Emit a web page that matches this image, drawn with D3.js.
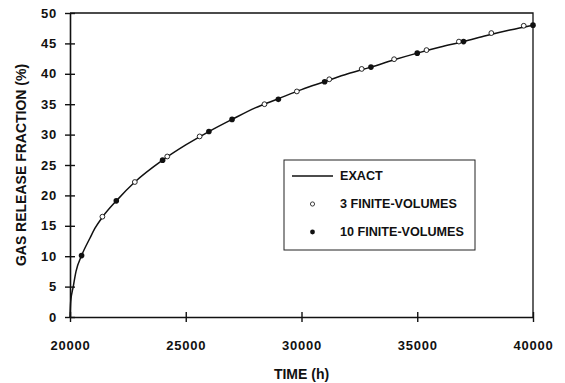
<!DOCTYPE html>
<html>
<head>
<meta charset="utf-8">
<script src="https://cdn.jsdelivr.net/npm/d3@7"></script>
<style>
    body { margin: 0; background: #fff; }
    svg text { font-family: "Liberation Sans", Arial, sans-serif; font-weight: bold; fill: #111; }
</style>
</head>
<body>
<svg id="chart" width="565" height="383"></svg>
<script>
// exact solution
const exactTime = [20000, 20030, 20140, 20260, 20500, 20865, 21080, 21415, 22000, 22800, 24000, 25000,
    26000, 27000, 28000, 29000, 30000, 31000, 32000, 33000, 34000, 35000, 36000, 37000, 38000, 39000, 40000]
const exactFraction = [0, 2.5, 5, 7.5, 10.1, 13, 14.6, 16.5, 19.1, 22.2, 25.8, 28.3,
    30.5, 32.5, 34.4, 35.9, 37.4, 38.7, 40.0, 41.1, 42.3, 43.4, 44.4, 45.3, 46.3, 47.2, 48.0]

// 3 finite-volumes (open circles)
const fv3Time = [21400, 22800, 24200, 25600, 28400, 29800, 31200, 32600, 34000, 35400, 36800, 38200, 39600]
const fv3Fraction = [16.5, 22.2, 26.4, 29.7, 35.0, 37.1, 39.1, 40.8, 42.4, 43.9, 45.3, 46.7, 47.9]

// 10 finite-volumes (filled circles)
const fv10Time = [20500, 22000, 24000, 26000, 27000, 29000, 31000, 33000, 35000, 37000, 40000]
const fv10Fraction = [10.1, 19.1, 25.8, 30.5, 32.5, 35.8, 38.7, 41.1, 43.4, 45.3, 48.0]

const xTicks = [20000, 25000, 30000, 35000, 40000]
const yTicks = [0, 5, 10, 15, 20, 25, 30, 35, 40, 45, 50]

const legendLabels = ["EXACT", "3 FINITE-VOLUMES", "10 FINITE-VOLUMES"]

const margin = {left: 70, right: 32, top: 13, bottom: 66}
const width = 565
const height = 383

let svg = d3.select("#chart")

let x = d3.scaleLinear()
    .domain([20000, 40000])
    .range([margin.left, width - margin.right])
let y = d3.scaleLinear()
    .domain([0, 50])
    .range([height - margin.bottom, margin.top])

// frame: top and right edges
svg.append("path")
    .attr("d", `M ${x(20000)},${y(50)} H ${x(40000)} V ${y(0)}`)
    .attr("fill", "none")
    .attr("stroke", "#111")
    .attr("stroke-width", 1.3)

// axes, ticks crossing the line
let xAxis = svg.append("g")
    .attr("transform", `translate(0,${y(0)})`)
    .call(d3.axisBottom(x).tickValues(xTicks).tickFormat(d3.format("d"))
        .tickSize(5).tickSizeOuter(0))
xAxis.selectAll(".tick line").attr("y1", -5)
let yAxis = svg.append("g")
    .attr("transform", `translate(${x(20000)},0)`)
    .call(d3.axisLeft(y).tickValues(yTicks).tickSize(5).tickSizeOuter(0).tickPadding(8))
yAxis.selectAll(".tick line").attr("x1", 5)

for (let g of [xAxis, yAxis]) {
    g.select(".domain").attr("stroke", "#111").attr("stroke-width", 1.6)
    g.selectAll(".tick line").attr("stroke", "#111").attr("stroke-width", 1.4)
    g.selectAll(".tick text")
        .attr("fill", "#111")
        .style("font-size", "13px")
        .style("letter-spacing", "0.8px")
}
xAxis.selectAll(".tick text").attr("dy", "0.35em").attr("y", 28)

// axis titles
svg.append("text")
    .attr("x", x(30000))
    .attr("y", 374)
    .attr("dy", "0.35em")
    .attr("text-anchor", "middle")
    .style("font-size", "14px")
    .text("TIME (h)")
svg.append("text")
    .attr("transform", `translate(21,${y(25)}) rotate(-90)`)
    .attr("dy", "0.35em")
    .attr("text-anchor", "middle")
    .style("font-size", "14px")
    .text("GAS RELEASE FRACTION (%)")

// exact curve
let line = d3.line()
    .x(d => x(d[0]))
    .y(d => y(d[1]))
    .curve(d3.curveMonotoneX)
svg.append("path")
    .datum(d3.zip(exactTime, exactFraction))
    .attr("d", line)
    .attr("fill", "none")
    .attr("stroke", "#111")
    .attr("stroke-width", 1.5)

// markers
svg.append("g")
    .selectAll("circle")
    .data(d3.zip(fv3Time, fv3Fraction))
    .join("circle")
        .attr("cx", d => x(d[0]))
        .attr("cy", d => y(d[1]))
        .attr("r", 2.4)
        .attr("fill", "#fff")
        .attr("stroke", "#111")
        .attr("stroke-width", 0.9)
svg.append("g")
    .selectAll("circle")
    .data(d3.zip(fv10Time, fv10Fraction))
    .join("circle")
        .attr("cx", d => x(d[0]))
        .attr("cy", d => y(d[1]))
        .attr("r", 2.8)
        .attr("fill", "#111")

// legend
let legend = svg.append("g")
legend.append("rect")
    .attr("x", 284)
    .attr("y", 160)
    .attr("width", 191)
    .attr("height", 90)
    .attr("fill", "#fff")
    .attr("stroke", "#222")
    .attr("stroke-width", 1)
let rowY = [176, 204, 232]
legend.append("line")
    .attr("x1", 292).attr("x2", 333)
    .attr("y1", rowY[0]).attr("y2", rowY[0])
    .attr("stroke", "#111")
    .attr("stroke-width", 1.5)
legend.append("circle")
    .attr("cx", 312.5).attr("cy", rowY[1]).attr("r", 2.1)
    .attr("fill", "#fff").attr("stroke", "#111").attr("stroke-width", 0.8)
legend.append("circle")
    .attr("cx", 312.5).attr("cy", rowY[2]).attr("r", 2.4)
    .attr("fill", "#111")
legend.selectAll("text")
    .data(legendLabels)
    .join("text")
        .attr("x", 340)
        .attr("y", (d, i) => rowY[i])
        .attr("dy", "0.35em")
        .style("font-size", "12.6px")
        .text(d => d)
</script>
</body>
</html>
